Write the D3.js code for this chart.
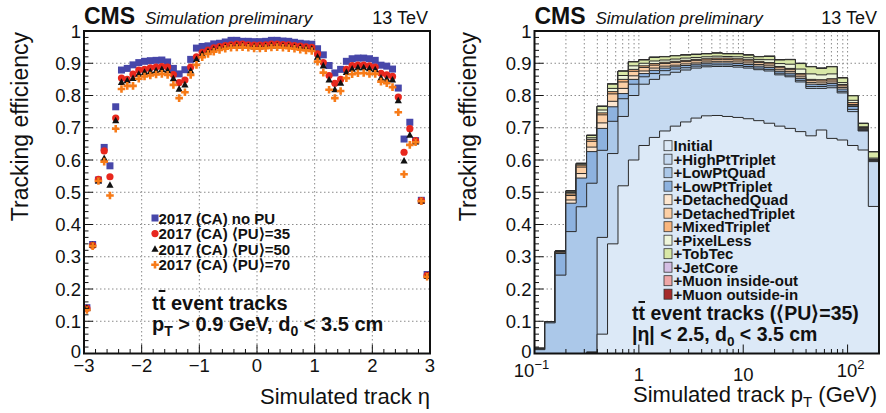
<!DOCTYPE html>
<html><head><meta charset="utf-8">
<script src="https://cdn.jsdelivr.net/npm/d3@7"></script>
<style>body{margin:0;background:#fff}svg{display:block}</style>
</head><body><svg id="c" width="886" height="413"></svg>
<script>
// ---------- LEFT PANEL DATA (efficiency vs eta, 60 bins of 0.1) ----------
const etaCenters = [-2.95,-2.85,-2.75,-2.65,-2.55,-2.45,-2.35,-2.25,-2.15,-2.05,
  -1.95,-1.85,-1.75,-1.65,-1.55,-1.45,-1.35,-1.25,-1.15,-1.05,
  -0.95,-0.85,-0.75,-0.65,-0.55,-0.45,-0.35,-0.25,-0.15,-0.05,
  0.05,0.15,0.25,0.35,0.45,0.55,0.65,0.75,0.85,0.95,
  1.05,1.15,1.25,1.35,1.45,1.55,1.65,1.75,1.85,1.95,
  2.05,2.15,2.25,2.35,2.45,2.55,2.65,2.75,2.85,2.95];
const effNoPU = [0.142,0.338,0.538,0.639,0.582,0.765,0.879,0.884,0.895,0.902,
  0.906,0.908,0.909,0.910,0.904,0.884,0.867,0.880,0.912,0.947,
  0.952,0.954,0.960,0.962,0.966,0.971,0.971,0.968,0.968,0.967,
  0.967,0.968,0.971,0.971,0.969,0.968,0.965,0.962,0.960,0.959,
  0.945,0.926,0.893,0.870,0.881,0.906,0.914,0.916,0.916,0.914,
  0.909,0.894,0.891,0.882,0.823,0.665,0.717,0.660,0.475,0.245];
const effPU35 = [0.140,0.335,0.540,0.628,0.548,0.730,0.854,0.850,0.866,0.879,
  0.881,0.886,0.888,0.890,0.888,0.865,0.840,0.848,0.888,0.920,
  0.934,0.941,0.948,0.952,0.955,0.957,0.959,0.959,0.957,0.956,
  0.956,0.957,0.959,0.959,0.958,0.957,0.955,0.953,0.951,0.949,
  0.929,0.902,0.862,0.838,0.850,0.881,0.893,0.894,0.894,0.892,
  0.888,0.869,0.864,0.859,0.795,0.624,0.697,0.660,0.474,0.242];
const effPU50 = [0.140,0.336,0.535,0.605,0.522,0.722,0.841,0.846,0.853,0.866,
  0.872,0.874,0.877,0.881,0.877,0.852,0.820,0.833,0.876,0.912,
  0.929,0.936,0.943,0.947,0.950,0.952,0.954,0.954,0.952,0.951,
  0.951,0.952,0.954,0.954,0.953,0.952,0.950,0.948,0.946,0.944,
  0.919,0.892,0.848,0.818,0.838,0.872,0.882,0.886,0.886,0.883,
  0.880,0.854,0.851,0.848,0.784,0.597,0.677,0.656,0.473,0.240];
const effPU70 = [0.135,0.333,0.535,0.595,0.490,0.697,0.820,0.830,0.830,0.852,
  0.859,0.862,0.865,0.867,0.864,0.833,0.792,0.810,0.864,0.895,
  0.919,0.929,0.936,0.941,0.945,0.948,0.949,0.950,0.948,0.946,
  0.946,0.947,0.949,0.950,0.948,0.947,0.945,0.942,0.940,0.938,
  0.905,0.871,0.818,0.792,0.814,0.854,0.866,0.869,0.870,0.867,
  0.867,0.843,0.838,0.826,0.748,0.556,0.647,0.655,0.472,0.238];
const seriesLabels = ["2017 (CA) no PU","2017 (CA) \u27E8PU\u27E9=35","2017 (CA) \u27E8PU\u27E9=50","2017 (CA) \u27E8PU\u27E9=70"];
const etaTicks = [-3,-2,-1,0,1,2,3];
const etaTickLabels = ["\u22123","\u22122","\u22121","0","1","2","3"];
const effTicks = [0,0.1,0.2,0.3,0.4,0.5,0.6,0.7,0.8,0.9,1];
const effTickLabels = ["0","0.1","0.2","0.3","0.4","0.5","0.6","0.7","0.8","0.9","1"];

// ---------- RIGHT PANEL DATA (cumulative efficiency vs pT, 33 log bins) ----------
const ptEdges = [0.1,0.126,0.158,0.2,0.251,0.316,0.398,0.501,0.631,0.794,1,1.26,1.58,2,2.51,3.16,3.98,5.01,6.31,7.94,
  10,12.6,15.8,20,25.1,31.6,39.8,50.1,63.1,79.4,100,126,158,200];
const cumInitial = [0,0,0,0,0,0.003,0.06,0.34,0.52,0.60,0.645,0.67,0.69,0.705,0.718,0.73,0.737,0.738,0.735,0.732,0.728,0.722,0.714,0.705,0.698,0.688,0.675,0.693,0.667,0.662,0.645,0.631,0.456];
const cumHighPtTriplet = [0,0,0,0,0,0.005,0.36,0.62,0.735,0.80,0.835,0.85,0.864,0.872,0.879,0.885,0.889,0.89,0.89,0.888,0.885,0.88,0.876,0.864,0.858,0.842,0.822,0.822,0.824,0.808,0.75,0.69,0.595];
const cumLowPtQuad = [0.012,0.095,0.243,0.378,0.455,0.528,0.63,0.72,0.79,0.835,0.858,0.868,0.877,0.882,0.886,0.891,0.894,0.895,0.895,0.893,0.89,0.885,0.881,0.869,0.863,0.847,0.828,0.828,0.83,0.813,0.757,0.692,0.597];
const cumLowPtTriplet = [0.015,0.098,0.31,0.466,0.544,0.626,0.698,0.765,0.806,0.85,0.868,0.878,0.885,0.889,0.893,0.897,0.9,0.901,0.901,0.899,0.896,0.891,0.887,0.875,0.869,0.853,0.835,0.834,0.837,0.82,0.766,0.695,0.599];
const cumDetachedQuad = [0.015,0.098,0.312,0.476,0.558,0.64,0.715,0.782,0.822,0.861,0.876,0.885,0.891,0.894,0.898,0.901,0.904,0.906,0.906,0.904,0.901,0.896,0.892,0.88,0.874,0.858,0.84,0.839,0.842,0.825,0.768,0.697,0.6];
const cumDetachedTriplet = [0.016,0.099,0.315,0.49,0.578,0.658,0.74,0.805,0.842,0.875,0.887,0.894,0.899,0.902,0.905,0.908,0.91,0.912,0.912,0.91,0.907,0.902,0.898,0.886,0.88,0.864,0.846,0.845,0.848,0.83,0.772,0.699,0.601];
const cumMixedTriplet = [0.016,0.099,0.316,0.495,0.584,0.664,0.746,0.812,0.85,0.881,0.892,0.899,0.903,0.906,0.909,0.912,0.914,0.916,0.916,0.914,0.911,0.906,0.902,0.89,0.884,0.868,0.85,0.849,0.852,0.834,0.778,0.701,0.603];
const cumPixelLess = [0.016,0.099,0.317,0.499,0.587,0.669,0.755,0.822,0.862,0.892,0.9,0.907,0.91,0.913,0.916,0.918,0.92,0.922,0.921,0.92,0.917,0.912,0.911,0.899,0.897,0.882,0.867,0.864,0.867,0.84,0.785,0.703,0.606];
const cumTobTec = [0.016,0.099,0.318,0.503,0.589,0.676,0.766,0.835,0.875,0.904,0.91,0.918,0.92,0.923,0.925,0.927,0.929,0.931,0.929,0.929,0.925,0.92,0.921,0.91,0.911,0.899,0.889,0.884,0.889,0.854,0.799,0.713,0.625];
const cumJetCore = [0.016,0.099,0.318,0.5035,0.5893,0.6763,0.7663,0.8353,0.8753,0.9043,0.9103,0.9183,0.9203,0.9233,0.9253,0.9273,0.9293,0.9313,0.9293,0.9293,0.9253,0.9203,0.9213,0.9103,0.9113,0.8993,0.8893,0.8843,0.8893,0.8543,0.7993,0.7133,0.6253];
const cumMuonInsideOut = [0.016,0.099,0.318,0.5047,0.5897,0.6767,0.7667,0.8357,0.8757,0.9047,0.9107,0.9187,0.9207,0.9237,0.9257,0.9277,0.9297,0.9317,0.9297,0.9297,0.9257,0.9207,0.9217,0.9107,0.9117,0.8997,0.8897,0.8847,0.8897,0.8547,0.7997,0.7137,0.6257];
const cumMuonOutsideIn = [0.016,0.099,0.318,0.505,0.59,0.677,0.767,0.836,0.876,0.905,0.911,0.919,0.921,0.924,0.926,0.928,0.93,0.932,0.93,0.93,0.926,0.921,0.922,0.911,0.912,0.9,0.89,0.885,0.89,0.855,0.8,0.714,0.626];
const iterNames = ["Initial","+HighPtTriplet","+LowPtQuad","+LowPtTriplet","+DetachedQuad","+DetachedTriplet","+MixedTriplet","+PixelLess","+TobTec","+JetCore","+Muon inside-out","+Muon outside-in"];
const iterColors = ["#dce9f7","#c6daf1","#abc8e9","#8db2df","#fde6cf","#fccfa5","#f9b67e","#eef5da","#d9e8a7","#d4bfe4","#eea6a6","#a52a2a"];
const ptTicks = [0.1,1,10,100];
const ptGrid = [0.2,0.3,0.4,0.5,0.6,0.7,0.8,0.9,1,2,3,4,5,6,7,8,9,10,20,30,40,50,60,70,80,90,100];
const ptMinor = [0.2,0.3,0.4,0.5,0.6,0.7,0.8,0.9,2,3,4,5,6,7,8,9,20,30,40,50,60,70,80,90,200];

const FONT = '"Liberation Sans", Arial, Helvetica, sans-serif';
const svg = d3.select("#c");
const y = d3.scaleLinear().domain([0,1]).range([353.5,31]);
const xEta = d3.scaleLinear().domain([-3,3]).range([84,430]);
const xPt = d3.scaleLog().domain([0.1,200]).range([534.5,879]);

function txt(g, x, yy, s, o={}) {
  const t = g.append("text").attr("x",x).attr("y",yy).text(s)
    .attr("font-family",FONT).attr("font-size",o.size||18).attr("fill","#111");
  if (o.anchor) t.attr("text-anchor",o.anchor);
  if (o.weight) t.attr("font-weight",o.weight);
  if (o.style) t.attr("font-style",o.style);
  return t;
}

function header(x0, x1) {
  txt(svg, x0, 24, "CMS", {size:23, weight:"bold"});
  txt(svg, x0+61, 24, "Simulation preliminary", {size:17, style:"italic"});
  txt(svg, x1, 24, "13 TeV", {size:18, anchor:"end"});
}

function yAxis(xFrame, xTitle) {
  const g = svg.append("g");
  effTicks.forEach((v,i)=>{
    txt(g, xFrame-3, v===0 ? y(v)+4.5 : y(v)+6.5, effTickLabels[i], {size:18.5, anchor:"end"});
  });
  g.append("text").attr("transform",`translate(${xTitle},32) rotate(-90)`)
    .attr("text-anchor","end").attr("font-family",FONT).attr("font-size",23).attr("fill","#111")
    .text("Tracking efficiency");
}

function yTicksDraw(xFrame) {
  const g = svg.append("g").attr("stroke","#111").attr("stroke-width",1);
  for (let k=0;k<=50;k++){
    const v = effTicks[Math.floor(k/5)] + (k%5)*0.02;
    if (v>1.0001) break;
    const L = (k%5===0)?9:4.5;
    g.append("line").attr("x1",xFrame).attr("x2",xFrame+L).attr("y1",y(v)).attr("y2",y(v));
  }
}

// ================= LEFT PANEL =================
header(84, 428);
const gridL = svg.append("g").attr("stroke","#8a8a8a").attr("stroke-width",1).attr("stroke-dasharray","1.5,2.5");
effTicks.slice(1,-1).forEach(v=>gridL.append("line").attr("x1",84).attr("x2",430).attr("y1",y(v)).attr("y2",y(v)));
etaTicks.slice(1,-1).forEach(v=>gridL.append("line").attr("x1",xEta(v)).attr("x2",xEta(v)).attr("y1",31).attr("y2",353.5));

const mL = svg.append("g");
function square(g,cx,cy){g.append("rect").attr("x",cx-3.5).attr("y",cy-3.5).attr("width",7).attr("height",7).attr("fill","#4747a9");}
function circle(g,cx,cy){g.append("circle").attr("cx",cx).attr("cy",cy).attr("r",3.6).attr("fill","#e8271d");}
function tri(g,cx,cy){g.append("path").attr("d",`M${cx},${cy-4}L${cx+3.6},${cy+2.6}L${cx-3.6},${cy+2.6}Z`).attr("fill","#111");}
function cross(g,cx,cy){g.append("path").attr("d",`M${cx-1.3},${cy-3.8}h2.6v2.5h2.5v2.6h-2.5v2.5h-2.6v-2.5h-2.5v-2.6h2.5Z`).attr("fill","#f77b18");}
const drawers = [square, circle, tri, cross];
[effNoPU, effPU35, effPU50, effPU70].forEach((arr,si)=>{
  arr.forEach((v,i)=>drawers[si](mL, xEta(etaCenters[i]), y(v)));
});

yTicksDraw(84);
const gx = svg.append("g").attr("stroke","#111").attr("stroke-width",1);
for (let k=0;k<=30;k++){
  const v = -3 + k*0.2;
  const L = (k%5===0)?9:4.5;
  gx.append("line").attr("x1",xEta(v)).attr("x2",xEta(v)).attr("y1",353.5).attr("y2",353.5-L);
}
etaTicks.forEach((v,i)=>txt(svg, xEta(v), 372, etaTickLabels[i], {size:18.5, anchor:"middle"}));
yAxis(84, 28);
txt(svg, 430, 404, "Simulated track \u03B7", {size:22, anchor:"end"});

const legL = svg.append("g");
[0,1,2,3].forEach(i=>{
  const cy = 218 + i*15.6;
  drawers[i](legL, 155, cy);
  txt(legL, 158.5, cy+5.5, seriesLabels[i], {size:15, weight:"bold"});
});
{
  const t = txt(svg, 152, 310, "t", {size:20, weight:"bold"});
  t.append("tspan").attr("text-decoration","overline").text("t");
  t.append("tspan").text(" event tracks");
  const t2 = txt(svg, 152, 331, "p", {size:20, weight:"bold"});
  t2.append("tspan").attr("dy",5).attr("font-size",14).text("T");
  t2.append("tspan").attr("dy",-5).text(" > 0.9 GeV,  d");
  t2.append("tspan").attr("dy",5).attr("font-size",14).text("0");
  t2.append("tspan").attr("dy",-5).text(" < 3.5 cm");
}
svg.append("rect").attr("x",84).attr("y",31).attr("width",346).attr("height",322.5)
  .attr("fill","none").attr("stroke","#111").attr("stroke-width",2);

// ================= RIGHT PANEL =================
header(534.5, 877);
const gridR = svg.append("g").attr("stroke","#8a8a8a").attr("stroke-width",1).attr("stroke-dasharray","1.5,2.5");
effTicks.slice(1,-1).forEach(v=>gridR.append("line").attr("x1",534.5).attr("x2",879).attr("y1",y(v)).attr("y2",y(v)));
ptGrid.forEach(v=>gridR.append("line").attr("x1",xPt(v)).attr("x2",xPt(v)).attr("y1",31).attr("y2",353.5));

const layers = [cumInitial,cumHighPtTriplet,cumLowPtQuad,cumLowPtTriplet,cumDetachedQuad,cumDetachedTriplet,
  cumMixedTriplet,cumPixelLess,cumTobTec,cumJetCore,cumMuonInsideOut,cumMuonOutsideIn];
const area = d3.area().x(d=>xPt(d.x)).y0(y(0)).y1(d=>y(d.v)).curve(d3.curveStepAfter);
const line = d3.line().x(d=>xPt(d.x)).y(d=>y(d.v)).curve(d3.curveStepAfter);
const hg = svg.append("g");
for (let li=layers.length-1; li>=0; li--) {
  const vals = layers[li];
  const pts = vals.map((v,k)=>({x:ptEdges[k], v}));
  pts.push({x:ptEdges[ptEdges.length-1], v:vals[vals.length-1]});
  hg.append("path").attr("d",area(pts)).attr("fill",iterColors[li]).attr("stroke","none");
  const lp = [{x:ptEdges[0],v:0}].concat(pts).concat([{x:ptEdges[ptEdges.length-1],v:0}]);
  hg.append("path").attr("d",line(lp)).attr("fill","none").attr("stroke","#2a2a2a").attr("stroke-width",1);
}

yTicksDraw(534.5);
const gxr = svg.append("g").attr("stroke","#111").attr("stroke-width",1);
ptTicks.forEach(v=>gxr.append("line").attr("x1",xPt(v)).attr("x2",xPt(v)).attr("y1",353.5).attr("y2",344.5));
ptMinor.forEach(v=>gxr.append("line").attr("x1",xPt(v)).attr("x2",xPt(v)).attr("y1",353.5).attr("y2",349));
{
  const a = txt(svg, xPt(0.1)-3, 377, "10", {size:18.5, anchor:"middle"});
  a.append("tspan").attr("dy",-8).attr("font-size",13).text("\u22121");
  txt(svg, xPt(1), 381, "1", {size:18.5, anchor:"middle"});
  txt(svg, xPt(10), 381, "10", {size:18.5, anchor:"middle"});
  const b = txt(svg, xPt(100)+3, 377, "10", {size:18.5, anchor:"middle"});
  b.append("tspan").attr("dy",-8).attr("font-size",13).text("2");
}
yAxis(534.5, 476);
{
  const t = txt(svg, 877, 402, "Simulated track p", {size:22, anchor:"end"});
  t.append("tspan").attr("dy",5).attr("font-size",15).text("T");
  t.append("tspan").attr("dy",-5).text(" (GeV)");
}
const legR = svg.append("g");
iterNames.forEach((n,i)=>{
  const cy = 145.7 + i*13.5;
  legR.append("rect").attr("x",664).attr("y",cy-5).attr("width",8).attr("height",10)
    .attr("fill",iterColors[i]).attr("stroke","#333").attr("stroke-width",0.8);
  txt(legR, 673.5, cy+5.3, n, {size:15, weight:"bold"});
});
{
  const t = txt(svg, 632, 320, "t", {size:19.5, weight:"bold"});
  t.append("tspan").attr("text-decoration","overline").text("t");
  t.append("tspan").text(" event tracks (\u27E8PU\u27E9=35)");
  const t2 = txt(svg, 632, 341, "|\u03B7| < 2.5,  d", {size:19.5, weight:"bold"});
  t2.append("tspan").attr("dy",5).attr("font-size",13.5).text("0");
  t2.append("tspan").attr("dy",-5).text(" < 3.5 cm");
}
svg.append("rect").attr("x",534.5).attr("y",31).attr("width",344.5).attr("height",322.5)
  .attr("fill","none").attr("stroke","#111").attr("stroke-width",2);
</script></body></html>
